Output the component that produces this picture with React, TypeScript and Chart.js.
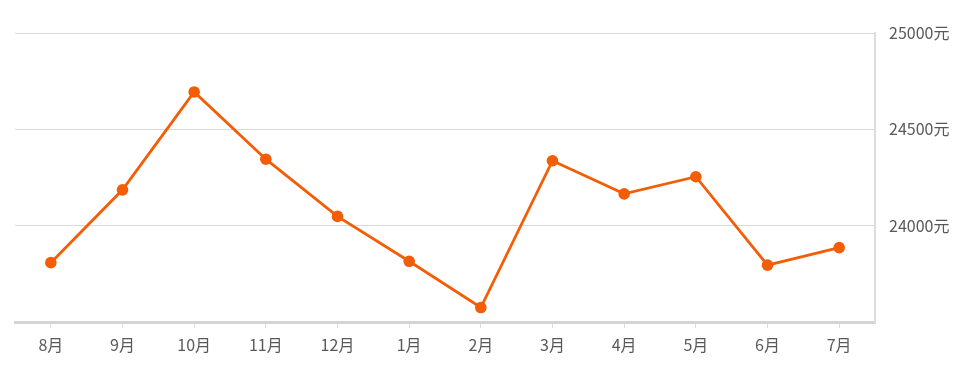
import React, { useEffect, useRef } from "react";
import { Chart, registerables } from "chart.js";

Chart.register(...registerables);

const categories = ["8月", "9月", "10月", "11月", "12月", "1月", "2月", "3月", "4月", "5月", "6月", "7月"];
const prices = [23808, 24186, 24694, 24345, 24048, 23815, 23575, 24337, 24165, 24254, 23795, 23886];
const yMin = 23500;
const yMax = 25000;
const yStep = 500;
const unit = "元";

export default function App() {
  const ref = useRef<HTMLCanvasElement>(null);
  useEffect(() => {
    document.body.style.margin = "0";
    const ctx = ref.current!;
    const chart = new Chart(ctx, {
      type: "line",
      data: {
        labels: categories,
        datasets: [
          {
            data: prices,
            borderColor: "#f25d06",
            backgroundColor: "#f25d06",
            borderWidth: 2.8,
            pointRadius: 5.8,
            pointBackgroundColor: "#f25d06",
            pointBorderWidth: 0,
            tension: 0,
          },
        ],
      },
      options: {
        animation: false,
        responsive: false,
        maintainAspectRatio: false,
        layout: { padding: { left: 15, top: 33, right: 0, bottom: 0 } },
        plugins: { legend: { display: false }, tooltip: { enabled: false } },
        scales: {
          x: {
            offset: true,
            grid: {
              offset: false,
              drawOnChartArea: false,
              drawTicks: true,
              tickLength: 6,
              tickColor: "#dcdcdc",
              color: "#dcdcdc",
            },
            border: { display: true, color: "#d4d4d4", width: 3 },
            ticks: {
              color: "#595959",
              font: { family: "'Noto Sans CJK SC', sans-serif", size: 16 },
              padding: 7,
              maxRotation: 0,
            },
            afterFit: (s: any) => {
              s.height = 55;
            },
          },
          y: {
            position: "right",
            min: yMin,
            max: yMax,
            grid: { color: "#d9d9d9", lineWidth: 1, drawTicks: false },
            border: { display: true, color: "#dcdcdc", width: 2 },
            ticks: {
              stepSize: yStep,
              color: "#595959",
              padding: 14,
              font: { family: "'Noto Sans CJK SC', sans-serif", size: 16 },
              callback: (v: any) => (Number(v) === yMin ? "" : v + unit),
            },
            afterFit: (s: any) => {
              s.width = 104;
            },
          },
        },
      },
    });
    return () => chart.destroy();
  }, []);
  return (
    <div style={{ width: 979, height: 377, background: "#fff" }}>
      <canvas ref={ref} width={979} height={377} style={{ display: "block" }} />
    </div>
  );
}
